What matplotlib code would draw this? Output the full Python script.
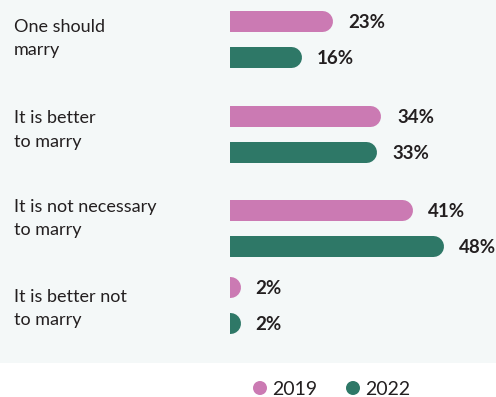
import matplotlib
matplotlib.use("Agg")
import matplotlib.pyplot as plt
from matplotlib.patches import Rectangle, Ellipse

# -----------------------------
# Data
# -----------------------------
CATEGORIES = [
    "One should\nmarry",
    "It is better\nto marry",
    "It is not necessary\nto marry",
    "It is better not\nto marry",
]
SERIES = ["2019", "2022"]
VALUES_2019 = [23, 34, 41, 2]
VALUES_2022 = [16, 33, 48, 2]

# -----------------------------
# Style / layout (pixels)
# -----------------------------
W, H = 496, 397
PANEL_H = 363
BAR_X0 = 230
PX_PER_PCT = 4.44
BAR_H = 21
PAIR_GAP = 36
GROUP_Y = [21, 116, 210, 287]          # centre of first bar in each group
LABEL_BASE = [32, 123, 212, 302]       # baseline of first label line
LINE_STEP = 23.5

COLORS = {"2019": "#CB7AB3", "2022": "#2E7867"}
BG = "#F4F8F8"
TEXT = "#231F20"
FONT = "Lato"

plt.rcParams["font.family"] = [FONT, "DejaVu Sans"]


def fx(px):
    return px / W


def fy(py):
    return 1 - py / H


fig = plt.figure(figsize=(W / 100, H / 100), dpi=100)
fig.patch.set_facecolor("white")
fig.patches.append(Rectangle((0, fy(PANEL_H)), 1, PANEL_H / H,
                             transform=fig.transFigure, facecolor=BG,
                             edgecolor="none", zorder=-5))

ax = fig.add_axes([fx(BAR_X0), fy(PANEL_H), (W - BAR_X0) / W, PANEL_H / H])
ax.set_xlim(0, (W - BAR_X0) / PX_PER_PCT)
ax.set_ylim(PANEL_H, 0)
ax.axis("off")
ax.patch.set_visible(False)
ax.set_zorder(2)

# bars: thick line with a round cap; the left cap is clipped at the axes edge
lw_pt = BAR_H * 72 / 100
r_x = (BAR_H / 2) / PX_PER_PCT
for i, cat in enumerate(CATEGORIES):
    for j, (name, vals) in enumerate(zip(SERIES, [VALUES_2019, VALUES_2022])):
        v = vals[i]
        yc = GROUP_Y[i] + j * PAIR_GAP
        ax.plot([0, v - r_x], [yc, yc], color=COLORS[name], lw=lw_pt,
                solid_capstyle="round")
        ax.text(v + 16 / PX_PER_PCT, yc, f"{v}%", ha="left",
                va="center_baseline", fontsize=13.5, fontweight="bold",
                color=TEXT, clip_on=False)

    for k, line in enumerate(cat.split("\n")):
        fig.text(fx(14), fy(LABEL_BASE[i] + k * LINE_STEP), line, ha="left",
                 va="baseline", fontsize=13, color=TEXT)

# legend
leg_y = 388
for name, cx in zip(SERIES, [260, 353]):
    fig.patches.append(Ellipse((fx(cx), fy(leg_y)), 14 / W, 14 / H,
                               transform=fig.transFigure,
                               facecolor=COLORS[name], edgecolor="none"))
    fig.text(fx(cx + 12), fy(leg_y), name, ha="left", va="center_baseline",
             fontsize=14, color=TEXT)

fig.savefig("out.png", dpi=100)
